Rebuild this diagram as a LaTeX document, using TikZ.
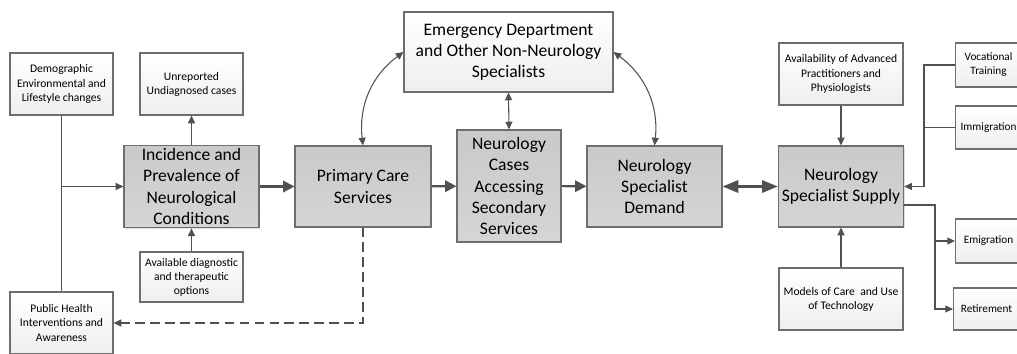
\documentclass[tikz,border=0pt]{standalone}
\usepackage{fontspec}
\setmainfont{Carlito}
\usetikzlibrary{arrows.meta,shadows}
\definecolor{linegray}{HTML}{505050}
\definecolor{boxline}{HTML}{6E6E6E}
\tikzset{
  >={Triangle[length=4.4pt,width=4pt]},
  boxbase/.style={draw=boxline, line width=0.6pt, align=center, inner sep=2pt,
    drop shadow={shadow xshift=0.7pt, shadow yshift=-0.7pt, opacity=0.25}},
  mainbox/.style={boxbase, top color=gray!42, bottom color=gray!33,
    font=\fontsize{10}{12}\selectfont},
  smallbox/.style={boxbase, top color=white, bottom color=gray!13,
    font=\fontsize{6.6}{8}\selectfont},
  sidebox/.style={smallbox, anchor=west, inner xsep=0.9mm, minimum width=13.2mm,
    font=\fontsize{6.4}{8}\selectfont},
  link/.style={draw=linegray, line width=0.6pt},
  flow/.style={draw=linegray, line width=1.2pt, -{Triangle[length=6.5pt,width=6.5pt]}},
  twoway/.style={draw=linegray, line width=1.4pt,
    {Triangle[length=9pt,width=7pt]}-{Triangle[length=9pt,width=7pt]}},
}

\begin{document}
\begin{tikzpicture}[x=0.2mm, y=-0.2mm]
  \useasboundingbox (0,0) rectangle (1017,354);
  \clip (0,0) rectangle (1017,354);

  % demand side
  \node[smallbox, minimum width=20.6mm, minimum height=12.4mm] (demo) at (61.5,84)
    {Demographic\\Environmental and\\Lifestyle changes};
  \node[smallbox, minimum width=20.6mm, minimum height=12.4mm] (unrep) at (191.5,84)
    {Unreported\\Undiagnosed cases};
  \node[mainbox, minimum width=27mm, minimum height=16.2mm] (incid) at (191.5,186.5)
    {Incidence and\\Prevalence of\\Neurological\\Conditions};
  \node[smallbox, minimum width=20.6mm, minimum height=10mm] (avail) at (191.5,277)
    {Available diagnostic\\and therapeutic\\options};
  \node[smallbox, minimum width=20.6mm, minimum height=12.4mm] (public) at (61.5,323)
    {Public Health\\Interventions and\\Awareness};
  \node[mainbox, minimum width=27.2mm, minimum height=16.2mm] (primary) at (363,186.5)
    {Primary Care\\Services};
  \node[smallbox, font=\fontsize{10}{12}\selectfont, minimum width=41.8mm,
    minimum height=16mm] (emerg) at (508.5,52)
    {Emergency Department\\and Other Non-Neurology\\Specialists};
  \node[mainbox, minimum width=20.8mm, minimum height=22.4mm] (cases) at (509,186)
    {Neurology\\Cases\\Accessing\\Secondary\\Services};
  \node[mainbox, minimum width=27mm, minimum height=16.2mm] (demand) at (654.5,186.5)
    {Neurology\\Specialist\\Demand};

  % supply side
  \node[mainbox, minimum width=24.8mm, minimum height=16.2mm] (supply) at (841,186.5)
    {Neurology\\Specialist Supply};
  \node[smallbox, minimum width=24.8mm, minimum height=12.4mm] (availp) at (841,74)
    {Availability of Advanced\\Practitioners and\\Physiologists};
  \node[smallbox, minimum width=24.8mm, minimum height=12.4mm] (models) at (841,299)
    {Models of Care~ and Use\\of Technology};
  \node[sidebox, minimum height=8.8mm] (vocat) at (955,65) {Vocational\\Training};
  \node[sidebox, minimum height=8.6mm] (immig) at (955,127.5) {Immigration};
  \node[sidebox, minimum height=8.8mm] (emig) at (955,241) {Emigration};
  \node[sidebox, minimum height=8.4mm] (retire) at (953,309) {Retirement};

  % connectors
  \draw[link] (demo.south) -- (public.north);
  \draw[link,->] (demo.south |- incid.west) -- (incid.west);
  \draw[link,->] (incid.north) -- (unrep.south);
  \draw[link,->] (avail.north) -- (incid.south);
  \draw[flow] (incid) -- (primary);
  \draw[flow] (primary) -- (cases);
  \draw[flow] (cases) -- (demand);
  \draw[twoway] (demand) -- (supply);
  \draw[link,<->] (primary.north) to[bend left=30] (emerg.west);
  \draw[link,<->] (emerg.south) -- (cases.north);
  \draw[link,<->] (emerg.east) to[bend left=30] (demand.north);
  \draw[link,->,dash pattern=on 5.5pt off 3pt] (primary.south) |- (public.east);
  \draw[link,->] (availp) -- (supply);
  \draw[link,->] (models) -- (supply);

  \coordinate (gather) at (924,186.5);
  \draw[link,->] (vocat.west) -| (gather) -- (supply.east);
  \draw[link] (immig.west) -- (immig.west -| gather);
  \coordinate (split) at (935,205);
  \draw[link,->] (supply.east |- split) -- (split) |- (retire.west);
  \draw[link,->] (split |- emig.west) -- (emig.west);
\end{tikzpicture}
\end{document}
